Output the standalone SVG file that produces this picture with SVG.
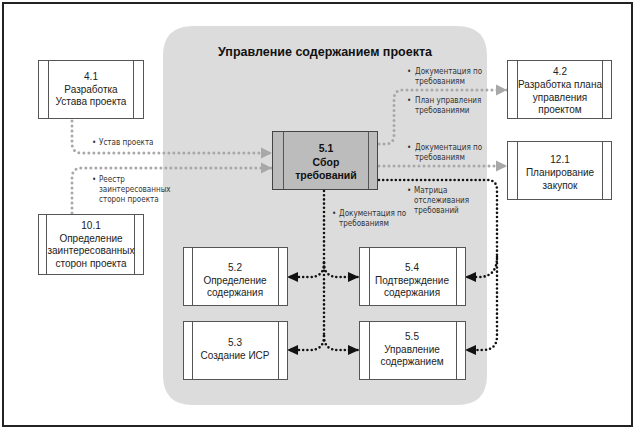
<svg xmlns="http://www.w3.org/2000/svg" width="640" height="430" viewBox="0 0 640 430">
<style>
.frame{fill:#fff;stroke:#222;stroke-width:2}
.area{fill:#dcdcdc}
.box{fill:#fff;stroke:#555;stroke-width:1}
.box51{fill:#bcbcbc;stroke:#444;stroke-width:1}
.bar{stroke:#555;stroke-width:1}
.nt{font-family:"Liberation Sans",Arial,sans-serif;font-size:10px;fill:#222;text-anchor:middle}
.nb{font-family:"Liberation Sans",Arial,sans-serif;font-size:10.5px;font-weight:bold;fill:#111;text-anchor:middle}
.title{font-family:"Liberation Sans",Arial,sans-serif;font-size:12.5px;font-weight:bold;fill:#111;text-anchor:middle}
.lb{font-family:"Liberation Sans Narrow","DejaVu Sans Condensed","Liberation Sans",sans-serif;font-size:8px;fill:#333}
.gray{fill:none;stroke:#a8a8a8;stroke-width:3;stroke-linecap:round;stroke-dasharray:0 5}
.blk{fill:none;stroke:#111;stroke-width:2.6;stroke-linecap:round;stroke-dasharray:0 4.2}
</style>
<defs>
<marker id="ag" markerUnits="userSpaceOnUse" markerWidth="12" markerHeight="12" refX="11" refY="6" orient="auto">
<path d="M0,0.5 L11,6 L0,11.5 z" fill="#a8a8a8"/>
</marker>
<marker id="ab" markerUnits="userSpaceOnUse" markerWidth="12" markerHeight="12" refX="11" refY="6" orient="auto">
<path d="M0,1 L11,6 L0,11 z" fill="#111"/>
</marker>
</defs>
<rect class="frame" x="3" y="3" width="629" height="423"/>
<path class="area" d="M193,26 H457 Q487,26 487,56 V375 Q487,405 457,405 H193 Q163,405 163,375 V56 Q163,26 193,26 z"/>
<text class="title" x="325" y="56">Управление содержанием проекта</text>

<g id="connectors">
<path class="gray" d="M72,121 V143 Q72,153 82,153 H272" marker-end="url(#ag)"/>
<path class="gray" d="M72,213 V178 Q72,168 82,168 H272" marker-end="url(#ag)"/>
<path class="gray" d="M379,144 H385 Q394,144 394,135 V99 Q394,90 403,90 H507" marker-end="url(#ag)"/>
<path class="gray" d="M379,166 H507" marker-end="url(#ag)"/>
<path class="blk" d="M379,180 H487 Q497,180 497,190 V336 Q497,350 483,350 H465" marker-end="url(#ab)"/>
<path class="blk" d="M497,257 Q497,277 479,277 H465" marker-end="url(#ab)"/>
<path class="blk" d="M324,191 V336"/>
<path class="blk" d="M324,263 Q324,277 310,277 H287" marker-end="url(#ab)"/>
<path class="blk" d="M324,263 Q324,277 338,277 H359" marker-end="url(#ab)"/>
<path class="blk" d="M324,336 Q324,350 310,350 H287" marker-end="url(#ab)"/>
<path class="blk" d="M324,336 Q324,350 338,350 H359" marker-end="url(#ab)"/>
</g>

<g id="labels">
<text class="lb" x="92" y="145">•</text><text class="lb" x="99" y="145">Устав проекта</text>
<text class="lb" x="92" y="182">•</text><text class="lb" x="99" y="182">Реестр</text>
<text class="lb" x="99" y="192">заинтересованных</text>
<text class="lb" x="99" y="202">сторон проекта</text>
<text class="lb" x="407" y="74">•</text><text class="lb" x="415" y="74">Документация по</text>
<text class="lb" x="415" y="84">требованиям</text>
<text class="lb" x="407" y="103">•</text><text class="lb" x="415" y="103">План управления</text>
<text class="lb" x="415" y="113">требованиями</text>
<text class="lb" x="407" y="150">•</text><text class="lb" x="415" y="150">Документация по</text>
<text class="lb" x="415" y="160">требованиям</text>
<text class="lb" x="407" y="193">•</text><text class="lb" x="414" y="193">Матрица</text>
<text class="lb" x="414" y="203">отслеживания</text>
<text class="lb" x="414" y="213">требований</text>
<text class="lb" x="332" y="216">•</text><text class="lb" x="339" y="216">Документация по</text>
<text class="lb" x="339" y="226">требованиям</text>
</g>

<g id="n41">
<rect class="box" x="38.5" y="60.5" width="105" height="58"/>
<line class="bar" x1="48.5" y1="60.5" x2="48.5" y2="118.5"/><line class="bar" x1="133.5" y1="60.5" x2="133.5" y2="118.5"/>
<text class="nt" x="91" y="80">4.1</text>
<text class="nt" x="91" y="92.5">Разработка</text>
<text class="nt" x="91" y="105">Устава проекта</text>
</g>
<g id="n101">
<rect class="box" x="38.5" y="214.5" width="105" height="60"/>
<line class="bar" x1="46.5" y1="214.5" x2="46.5" y2="274.5"/><line class="bar" x1="134.5" y1="214.5" x2="134.5" y2="274.5"/>
<text class="nt" x="91" y="229">10.1</text>
<text class="nt" x="91" y="241.5">Определение</text>
<text class="nt" x="91" y="254">заинтересованных</text>
<text class="nt" x="91" y="266.5">сторон проекта</text>
</g>
<g id="n51">
<rect class="box51" x="272.5" y="131.5" width="105" height="58"/>
<line class="bar" x1="283.5" y1="131.5" x2="283.5" y2="189.5"/><line class="bar" x1="368.5" y1="131.5" x2="368.5" y2="189.5"/>
<text class="nb" x="326" y="152">5.1</text>
<text class="nb" x="326" y="165.5">Сбор</text>
<text class="nb" x="326" y="179">требований</text>
</g>
<g id="n42">
<rect class="box" x="507.5" y="60.5" width="104" height="58"/>
<line class="bar" x1="517.5" y1="60.5" x2="517.5" y2="118.5"/><line class="bar" x1="602.5" y1="60.5" x2="602.5" y2="118.5"/>
<text class="nt" x="560" y="75">4.2</text>
<text class="nt" x="560" y="88">Разработка плана</text>
<text class="nt" x="560" y="100.5">управления</text>
<text class="nt" x="560" y="113">проектом</text>
</g>
<g id="n121">
<rect class="box" x="507.5" y="141.5" width="104" height="58"/>
<line class="bar" x1="517.5" y1="141.5" x2="517.5" y2="199.5"/><line class="bar" x1="602.5" y1="141.5" x2="602.5" y2="199.5"/>
<text class="nt" x="560" y="163">12.1</text>
<text class="nt" x="560" y="176">Планирование</text>
<text class="nt" x="560" y="189">закупок</text>
</g>
<g id="n52">
<rect class="box" x="183.5" y="247.5" width="104" height="58"/>
<line class="bar" x1="192.5" y1="247.5" x2="192.5" y2="305.5"/><line class="bar" x1="278.5" y1="247.5" x2="278.5" y2="305.5"/>
<text class="nt" x="235" y="271">5.2</text>
<text class="nt" x="235" y="283.5">Определение</text>
<text class="nt" x="235" y="296">содержания</text>
</g>
<g id="n53">
<rect class="box" x="183.5" y="321.5" width="104" height="58"/>
<line class="bar" x1="192.5" y1="321.5" x2="192.5" y2="379.5"/><line class="bar" x1="278.5" y1="321.5" x2="278.5" y2="379.5"/>
<text class="nt" x="235" y="346">5.3</text>
<text class="nt" x="235" y="358.5">Создание ИСР</text>
</g>
<g id="n54">
<rect class="box" x="359.5" y="247.5" width="106" height="58"/>
<line class="bar" x1="369.5" y1="247.5" x2="369.5" y2="305.5"/><line class="bar" x1="456.5" y1="247.5" x2="456.5" y2="305.5"/>
<text class="nt" x="412" y="271">5.4</text>
<text class="nt" x="412" y="283.5">Подтверждение</text>
<text class="nt" x="412" y="296">содержания</text>
</g>
<g id="n55">
<rect class="box" x="359.5" y="321.5" width="106" height="58"/>
<line class="bar" x1="369.5" y1="321.5" x2="369.5" y2="379.5"/><line class="bar" x1="456.5" y1="321.5" x2="456.5" y2="379.5"/>
<text class="nt" x="412" y="340">5.5</text>
<text class="nt" x="412" y="352.5">Управление</text>
<text class="nt" x="412" y="365">содержанием</text>
</g>
</svg>
